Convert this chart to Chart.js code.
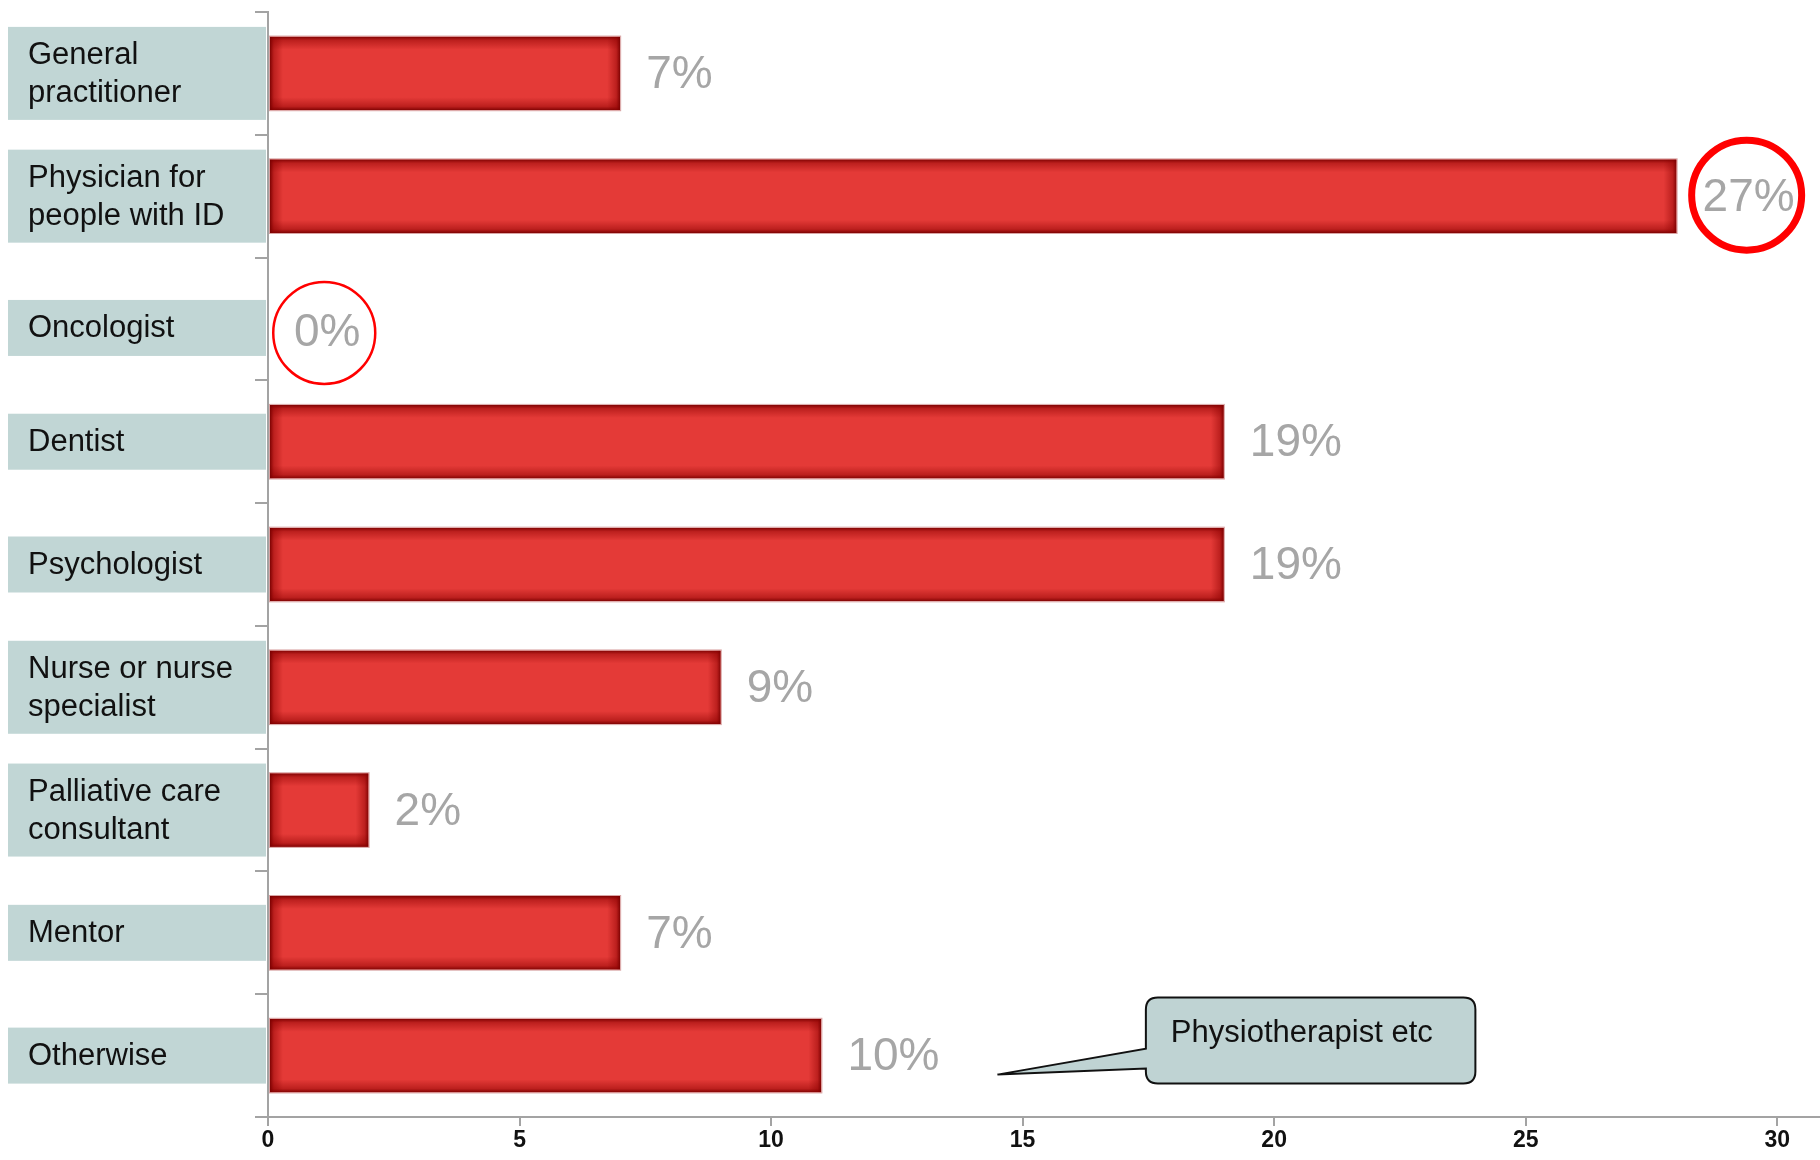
<!DOCTYPE html>
<html>
<head>
<meta charset="utf-8">
<script src="https://cdn.jsdelivr.net/npm/chart.js@4.4.1/dist/chart.umd.min.js"></script>
<style>
  html, body { margin: 0; padding: 0; background: #fff; }
  #wrap { width: 1820px; height: 1160px; }
</style>
</head>
<body>
<div id="wrap"><canvas id="myChart" width="1820" height="1160"></canvas></div>
<script>
const categories = [
    ['General', 'practitioner'],
    ['Physician for', 'people with ID'],
    ['Oncologist'],
    ['Dentist'],
    ['Psychologist'],
    ['Nurse or nurse', 'specialist'],
    ['Palliative care', 'consultant'],
    ['Mentor'],
    ['Otherwise']
];
const counts = [7, 28, 0, 19, 19, 9, 2, 7, 11];
const percentLabels = ['7%', '27%', '0%', '19%', '19%', '9%', '2%', '7%', '10%'];
const xTicks = [0, 5, 10, 15, 20, 25, 30];
const calloutText = 'Physiotherapist etc';

const LABEL_FONT = '31px "Liberation Sans", Arial, sans-serif';
const PCT_FONT = '46px "Liberation Sans", Arial, sans-serif';

// boxes with the category names, left of the axis
const labelBoxes = {
    id: 'labelBoxes',
    afterDraw(chart) {
        const ctx = chart.ctx;
        const yScale = chart.scales.y;
        ctx.save();
        ctx.font = LABEL_FONT;
        ctx.textBaseline = 'middle';
        categories.forEach((lines, i) => {
            let y = yScale.getPixelForValue(i);
            if (i === 2) y += 9; // the Oncologist row sits a little low in the original
            const h = lines.length > 1 ? 93 : 56;
            ctx.fillStyle = '#c1d6d5';
            ctx.fillRect(8, y - h / 2, 258, h);
            ctx.fillStyle = '#111';
            const lh = 38;
            const start = y - (lines.length - 1) * lh / 2;
            lines.forEach((t, k) => ctx.fillText(t, 28, start + k * lh + 1));
        });
        ctx.restore();
    }
};

// darkened edges fading into the bar, one gradient per side
function edgeGlow(ctx, left, top, w, h) {
    const d = 13;
    const dark = 'rgba(120,0,0,0.95)';
    const mid = 'rgba(140,0,0,0.45)';
    const clear = 'rgba(140,0,0,0)';
    const sides = [
        [left, top, left, top + d, left, top, w, d],
        [left, top + h, left, top + h - d, left, top + h - d, w, d],
        [left, top, left + d, top, left, top, d, h],
        [left + w, top, left + w - d, top, left + w - d, top, d, h]
    ];
    sides.forEach(s => {
        const g = ctx.createLinearGradient(s[0], s[1], s[2], s[3]);
        g.addColorStop(0, dark);
        g.addColorStop(0.3, mid);
        g.addColorStop(1, clear);
        ctx.fillStyle = g;
        ctx.fillRect(s[4], s[5], s[6], s[7]);
    });
}

// inner dark glow on each bar + percentage labels + red rings
const barDecor = {
    id: 'barDecor',
    afterDatasetsDraw(chart) {
        const ctx = chart.ctx;
        const meta = chart.getDatasetMeta(0);
        meta.data.forEach((el, i) => {
            const p = el.getProps(['x', 'y', 'base', 'height'], true);
            const left = Math.min(p.x, p.base) + 1;
            const right = Math.max(p.x, p.base);
            const top = p.y - p.height / 2;
            const w = right - left;
            if (w > 0.5) {
                ctx.save();
                ctx.beginPath();
                ctx.rect(left, top, w, p.height);
                ctx.clip();
                edgeGlow(ctx, left, top, w, p.height);
                ctx.restore();
                ctx.save();
                ctx.strokeStyle = '#d9a5a5';
                ctx.lineWidth = 1;
                ctx.strokeRect(left - 0.5, top - 0.5, w + 1, p.height + 1);
                ctx.restore();
            }

            ctx.save();
            ctx.font = PCT_FONT;
            ctx.fillStyle = '#a6a6a6';
            ctx.textBaseline = 'middle';
            const tx = right + 26;
            const ty = i === 2 ? p.y + 14 : p.y + 2;
            ctx.fillText(percentLabels[i], tx, ty);
            const tw = ctx.measureText(percentLabels[i]).width;
            ctx.restore();

            if (i === 1 || i === 2) {
                ctx.save();
                ctx.strokeStyle = '#ff0000';
                ctx.beginPath();
                if (i === 1) {
                    ctx.lineWidth = 7;
                    ctx.arc(tx + tw / 2 - 2, p.y - 1, 55, 0, Math.PI * 2);
                } else {
                    ctx.lineWidth = 2.5;
                    ctx.arc(tx + tw / 2 - 3, p.y + 14, 51, 0, Math.PI * 2);
                }
                ctx.stroke();
                ctx.restore();
            }
        });
    }
};

// speech bubble pointing at the "Otherwise" row
const callout = {
    id: 'callout',
    afterDraw(chart) {
        const ctx = chart.ctx;
        const xs = chart.scales.x;
        const yc = chart.scales.y.getPixelForValue(categories.length - 1);
        const x0 = xs.getPixelForValue(17.45);
        const x1 = xs.getPixelForValue(24.0);
        const tipX = xs.getPixelForValue(14.5);
        const top = yc - 58, bottom = yc + 28, r = 12;
        ctx.save();
        ctx.beginPath();
        ctx.moveTo(x0 + r, top);
        ctx.lineTo(x1 - r, top);
        ctx.quadraticCurveTo(x1, top, x1, top + r);
        ctx.lineTo(x1, bottom - r);
        ctx.quadraticCurveTo(x1, bottom, x1 - r, bottom);
        ctx.lineTo(x0 + r, bottom);
        ctx.quadraticCurveTo(x0, bottom, x0, bottom - r);
        ctx.lineTo(x0, yc + 13);
        ctx.lineTo(tipX, yc + 19);
        ctx.lineTo(x0, yc - 7);
        ctx.lineTo(x0, top + r);
        ctx.quadraticCurveTo(x0, top, x0 + r, top);
        ctx.closePath();
        ctx.fillStyle = '#bfd3d3';
        ctx.fill();
        ctx.strokeStyle = '#111';
        ctx.lineWidth = 2;
        ctx.stroke();
        ctx.font = LABEL_FONT;
        ctx.fillStyle = '#111';
        ctx.textBaseline = 'middle';
        ctx.fillText(calloutText, x0 + 25, yc - 22);
        ctx.restore();
    }
};

const config = {
    type: 'bar',
    data: {
        labels: categories.map(c => c.join(' ')),
        datasets: [{
            data: counts,
            backgroundColor: '#e43a37',
            borderWidth: 0,
            categoryPercentage: 1,
            barPercentage: 0.6
        }]
    },
    options: {
        indexAxis: 'y',
        responsive: false,
        animation: false,
        layout: { padding: { top: 12, left: 0, right: 0, bottom: 0 } },
        plugins: {
            legend: { display: false },
            tooltip: { enabled: false }
        },
        scales: {
            y: {
                offset: true,
                ticks: { display: false },
                grid: {
                    offset: true,
                    drawOnChartArea: false,
                    drawTicks: true,
                    tickLength: 13,
                    color: '#a3a3a3',
                    lineWidth: 2
                },
                border: { color: '#a3a3a3', width: 2 },
                afterFit: s => { s.width = 268; }
            },
            x: {
                min: 0,
                max: 30.85,
                ticks: {
                    includeBounds: false,
                    stepSize: 5,
                    color: '#111',
                    padding: 1,
                    font: { family: '"Liberation Sans Narrow", "Liberation Sans", Arial', size: 23, weight: 'bold' }
                },
                afterBuildTicks: s => { s.ticks = xTicks.map(v => ({ value: v })); },
                grid: {
                    drawOnChartArea: false,
                    drawTicks: true,
                    tickLength: 9,
                    color: '#a3a3a3',
                    lineWidth: 2
                },
                border: { color: '#a3a3a3', width: 2 },
                afterFit: s => { s.height = 43; }
            }
        }
    },
    plugins: [labelBoxes, barDecor, callout]
};

const myChart = new Chart(document.getElementById('myChart'), config);
</script>
</body>
</html>
